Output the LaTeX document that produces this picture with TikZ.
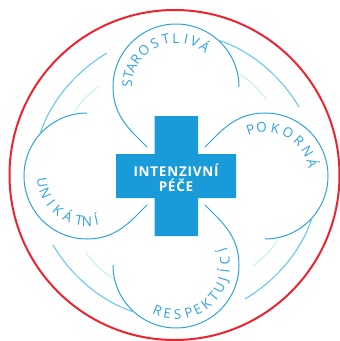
\documentclass[tikz,border=0pt]{standalone}
\usepackage{fontspec}
\setmainfont{Open Sans}
\newfontfamily\crossfont[LetterSpace=5.5]{Open Sans}
\definecolor{lobeblue}{HTML}{2FA3DC}
\definecolor{midblue}{HTML}{5CC4EE}
\definecolor{paleblue}{HTML}{C8EAF8}
\definecolor{crossblue}{HTML}{1A9BD9}
\definecolor{ringred}{HTML}{EE2330}
\tikzset{
  lobe/.style={draw=lobeblue,line width=1pt},
  outerarc/.style={draw=midblue,line width=1pt},
  innerarc/.style={draw=paleblue,line width=1pt},
  letter/.style={text=lobeblue,font=\fontsize{13.5}{14}\selectfont,inner sep=0pt,anchor=base},
  crosstext/.style={text=white,font=\crossfont\bfseries\fontsize{13.5}{14}\selectfont,inner sep=0pt,anchor=base}
}
\newcommand{\arcword}[6]{%
  \foreach \a/\c [count=\i] in {#6}{
    \node[letter,rotate=\a+#5,name=#1\i] at ({#2+#4*cos(\a)},{#3-#4*sin(\a)}) {\c};
  }}
\begin{document}
\begin{tikzpicture}[x=1pt,y=-1pt]
\useasboundingbox (0,0) rectangle (340,341);
\draw[ringred,line width=2pt] (174.5,175) circle[radius=165pt];
\fill[crossblue] (154.5,116) -- (198,116) -- (198,154) -- (236,154) -- (236,198) -- (198,198)
  -- (198,236) -- (154.5,236) -- (154.5,198) -- (116,198) -- (116,154) -- (154.5,154) -- cycle;
\foreach \k in {0,1,2,3}{
  \begin{scope}[rotate around={-90*\k:(176,176)}]
    \draw[lobe] (147,147) -- (136,136) .. controls (122,122) and (113,108) .. (113,87)
      arc[start angle=180,end angle=0,radius=63pt];
    \draw[outerarc] (218,40) .. controls (255,52) and (283,80) .. (299,107);
    \draw[innerarc] (239,74) .. controls (250,80) and (259,90) .. (266,99);
  \end{scope}
}
\node[crosstext] (cross1) at (176,176) {INTENZIVNÍ};
\node[crosstext] (cross2) at (176,191) {PÉČE};
\arcword{s}{176}{87}{44}{-90}{176/S,166/T,156/A,145/R,131/O,116/S,102/T,90/L,78/I,67/V,54/Á}
\arcword{p}{265}{176}{44}{-90}{107/P,94/O,78/K,62/O,46/R,30/N,15/Á}
\arcword{u}{87}{176}{50}{90}{188/U,203/N,217/I,230/K,245/Á,260/T,270/N,282/Í}
\arcword{r}{176}{265}{54}{90}{248/R,260/E,272/S,285/P,296/E,308/K,320/T,332/U,343/J,353/Í,365/C,378/Í}
\end{tikzpicture}
\end{document}
